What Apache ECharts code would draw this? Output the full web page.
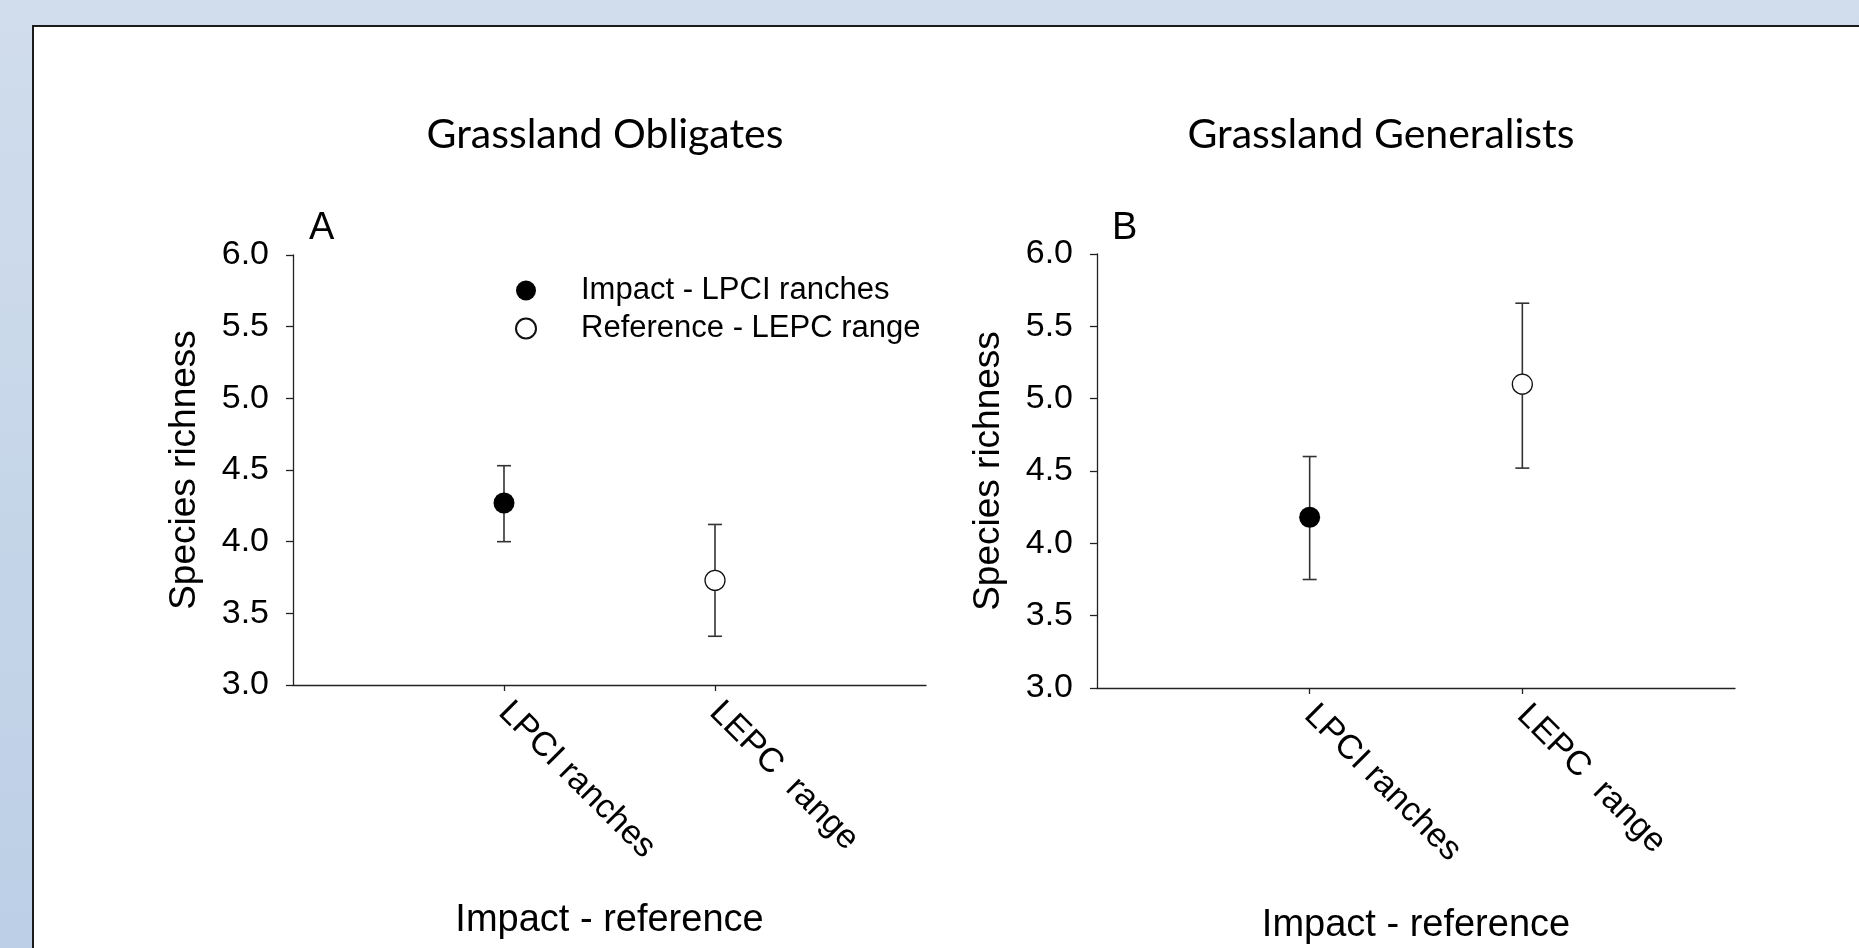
<!DOCTYPE html>
<html><head><meta charset="utf-8">
<script src="https://cdn.jsdelivr.net/npm/echarts@6/dist/echarts.min.js"></script>
<style>
html,body{margin:0;padding:0;width:1859px;height:948px;overflow:hidden;background:linear-gradient(to bottom,#d1ddec,#bccfe6);}
#panel{position:absolute;left:32px;top:25px;width:1850px;height:950px;background:#fff;border:2px solid #1b1b1b;box-sizing:border-box;}
#chart{position:absolute;left:0;top:0;width:1859px;height:948px;}
</style></head><body>
<div id="panel"></div><div id="chart"></div>
<script>
const categories = ['LPCI ranches', 'LEPC  range'];
const panelTitles = ['Grassland Obligates', 'Grassland Generalists'];
const panelLetters = ['A', 'B'];
const seriesNames = ['Impact - LPCI ranches', 'Reference - LEPC range'];
const yAxisName = 'Species richness';
const xAxisName = 'Impact - reference';
// Panel A: grassland obligates (mean, lower, upper)
const obligMean = [4.27, 3.73];
const obligLow = [4.00, 3.34];
const obligHigh = [4.53, 4.12];
// Panel B: grassland generalists
const generMean = [4.18, 5.10];
const generLow = [3.75, 4.52];
const generHigh = [4.60, 5.66];

const AX = 'Liberation Sans, Arial, sans-serif';
const grids = [
  {left: 293, top: 255, width: 633, height: 430},
  {left: 1097, top: 254, width: 638, height: 434}
];
const nameGapsX = [217, 219];
const panels = [
  {mean: obligMean, low: obligLow, high: obligHigh},
  {mean: generMean, low: generLow, high: generHigh}
];

const xAxes = grids.map((g, i) => ({
  type: 'value', gridIndex: i, min: 0, max: 3, interval: 1,
  name: xAxisName, nameLocation: 'middle', nameGap: nameGapsX[i],
  nameTextStyle: {fontFamily: AX, fontSize: 38, color: '#000'},
  axisLine: {show: true, onZero: false, lineStyle: {color: '#222', width: 1.3}},
  axisTick: {show: true, length: 6, customValues: [1, 2], lineStyle: {color: '#222', width: 1.3}},
  axisLabel: {customValues: [1, 2], rotate: -45, margin: 22, fontFamily: AX, fontSize: 34, color: '#000',
    formatter: v => categories[Math.round(v) - 1] || ''},
  splitLine: {show: false}
}));
const yAxes = grids.map((g, i) => ({
  type: 'value', gridIndex: i, min: 3, max: 6, interval: 0.5,
  name: yAxisName, nameLocation: 'middle', nameGap: 90,
  nameTextStyle: {fontFamily: AX, fontSize: 37, color: '#000'},
  axisLine: {show: true, lineStyle: {color: '#222', width: 1.3}},
  axisTick: {show: true, length: 7, lineStyle: {color: '#222', width: 1.3}},
  axisLabel: {margin: 24, fontFamily: AX, fontSize: 34, color: '#000', formatter: v => v.toFixed(1)},
  splitLine: {show: false}
}));

const series = [];
panels.forEach((p, i) => {
  series.push({
    type: 'custom', xAxisIndex: i, yAxisIndex: i, z: 2, silent: true,
    data: p.mean.map((m, k) => [k + 1, p.low[k], p.high[k]]),
    encode: {x: 0, y: [1, 2]},
    renderItem: (params, api) => {
      const x = api.value(0);
      const top = api.coord([x, api.value(2)]);
      const bot = api.coord([x, api.value(1)]);
      const hw = 7;
      const st = {stroke: '#333', lineWidth: 1.6};
      return {type: 'group', children: [
        {type: 'line', shape: {x1: top[0], y1: top[1], x2: bot[0], y2: bot[1]}, style: st},
        {type: 'line', shape: {x1: top[0] - hw, y1: top[1], x2: top[0] + hw, y2: top[1]}, style: st},
        {type: 'line', shape: {x1: bot[0] - hw, y1: bot[1], x2: bot[0] + hw, y2: bot[1]}, style: st}
      ]};
    }
  });
  series.push({
    type: 'scatter', name: seriesNames[0], xAxisIndex: i, yAxisIndex: i, z: 5,
    symbol: 'circle', symbolSize: 21,
    itemStyle: {color: '#000', borderColor: '#000', borderWidth: 0, opacity: 1},
    data: [[1, p.mean[0]]]
  });
  series.push({
    type: 'scatter', name: seriesNames[1], xAxisIndex: i, yAxisIndex: i, z: 5,
    symbol: 'circle', symbolSize: 20,
    itemStyle: {color: '#fff', borderColor: '#111', borderWidth: 1.3, opacity: 1},
    data: [[2, p.mean[1]]]
  });
});

const titles = [
  {text: panelTitles[0], left: 605, top: 114, textAlign: 'center'},
  {text: panelTitles[1], left: 1381, top: 114, textAlign: 'center'}
].map(t => Object.assign(t, {padding: 0, textStyle: {fontFamily: 'Lato, sans-serif', fontSize: 41, fontWeight: 'normal', color: '#000'}}));
[{text: panelLetters[0], left: 309, top: 210}, {text: panelLetters[1], left: 1112, top: 210}].forEach(t => {
  titles.push(Object.assign(t, {padding: 0, textStyle: {fontFamily: AX, fontSize: 38, fontWeight: 'normal', color: '#000'}}));
});

const chart = echarts.init(document.getElementById('chart'), null, {renderer: 'canvas'});
chart.setOption({
  backgroundColor: 'transparent',
  animation: false,
  title: titles,
  legend: {
    data: seriesNames, orient: 'vertical', left: 515, top: 275, padding: 0,
    itemWidth: 20, itemHeight: 20, itemGap: 7, icon: 'circle', selectedMode: false,
    textStyle: {fontFamily: AX, fontSize: 31, color: '#000', padding: [0, 0, 0, 40]}
  },
  grid: grids,
  xAxis: xAxes,
  yAxis: yAxes,
  series: series
});
</script>
</body></html>
